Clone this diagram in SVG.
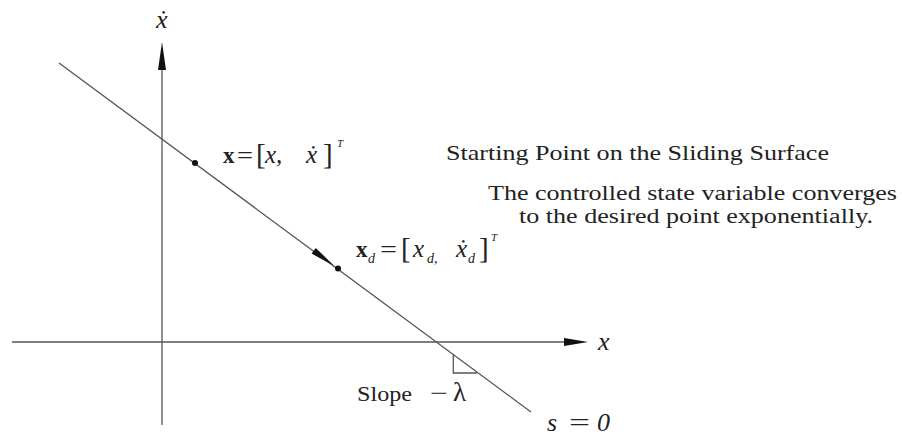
<svg xmlns="http://www.w3.org/2000/svg" width="902" height="437" viewBox="0 0 902 437">
<style>
.ln{stroke:#555;stroke-width:1.3;fill:none}
.ah{fill:#111;stroke:none}
</style>
<rect width="902" height="437" fill="#fff"/>
<g id="connectors">
<line class="ln" x1="162" y1="68" x2="162" y2="425"/>
<polygon class="ah" points="162,42 166,70 158,70"/>
<line class="ln" x1="12" y1="342" x2="567" y2="342"/>
<polygon class="ah" points="588,342 564,338 564,346"/>
<line class="ln" x1="59" y1="63" x2="531" y2="412"/>
<polygon class="ah" points="334,265.7 311.6,253.6 315.8,247.9"/>
<polyline class="ln" points="453.3,354.5 453.3,373 477,373" stroke-width="1"/>
</g>
<g id="axis-y-label" fill="#222"><text font-style="italic" x="156" y="28" font-size="26" font-family="Liberation Serif">ẋ</text></g>
<g id="axis-x-label" fill="#222"><text font-style="italic" x="598" y="350" font-size="26" font-family="Liberation Serif">x</text></g>
<g id="start-point" fill="#222">
<circle cx="195" cy="163" r="3" fill="#111"/>
<text font-weight="bold" x="223" y="163" font-size="23" font-family="Liberation Serif">x</text>
<text x="237" y="163" font-size="23" textLength="16" lengthAdjust="spacingAndGlyphs" font-family="Liberation Serif">=</text>
<text x="256" y="164" font-size="29" font-family="Liberation Serif">[</text>
<text font-style="italic" x="265" y="163" font-size="25" font-family="Liberation Serif">x,</text>
<text font-style="italic" x="306" y="163" font-size="25" font-family="Liberation Serif">ẋ</text>
<text x="323" y="164" font-size="29" font-family="Liberation Serif">]</text>
<text font-style="italic" x="337" y="147" font-size="11" font-family="Liberation Serif">T</text>
</g>
<g id="desired-point" fill="#222">
<circle cx="338" cy="268.5" r="3" fill="#111"/>
<text font-weight="bold" x="356" y="257" font-size="23" font-family="Liberation Serif">x</text>
<text font-style="italic" x="368" y="263" font-size="14" font-family="Liberation Serif">d</text>
<text x="380" y="257" font-size="23" textLength="17" lengthAdjust="spacingAndGlyphs" font-family="Liberation Serif">=</text>
<text x="401" y="258" font-size="29" font-family="Liberation Serif">[</text>
<text font-style="italic" x="413" y="257" font-size="25" font-family="Liberation Serif">x</text>
<text font-style="italic" x="427" y="263" font-size="14" font-family="Liberation Serif">d,</text>
<text font-style="italic" x="456" y="257" font-size="25" font-family="Liberation Serif">ẋ</text>
<text font-style="italic" x="468" y="263" font-size="14" font-family="Liberation Serif">d</text>
<text x="479" y="258" font-size="29" font-family="Liberation Serif">]</text>
<text font-style="italic" x="491" y="241" font-size="11" font-family="Liberation Serif">T</text>
</g>
<g id="start-text" fill="#222"><text x="446" y="160" font-size="22" textLength="383" lengthAdjust="spacingAndGlyphs" font-family="Liberation Serif">Starting Point on the Sliding Surface</text></g>
<g id="converge-text" fill="#222">
<text x="488" y="200" font-size="20.5" textLength="409" lengthAdjust="spacingAndGlyphs" font-family="Liberation Serif">The controlled state variable converges</text>
<text x="519" y="223" font-size="20.5" textLength="354" lengthAdjust="spacingAndGlyphs" font-family="Liberation Serif">to the desired point exponentially.</text>
</g>
<g id="slope-label" fill="#222">
<text x="357" y="401" font-size="22" textLength="55" lengthAdjust="spacingAndGlyphs" font-family="Liberation Serif">Slope</text>
<text x="430" y="401" font-size="24" textLength="18" lengthAdjust="spacingAndGlyphs" font-family="Liberation Serif">−</text>
<text x="453" y="401" font-size="27" font-family="Liberation Serif">λ</text>
</g>
<g id="surface-label" fill="#222">
<text font-style="italic" x="547" y="431" font-size="26" font-family="Liberation Serif">s</text>
<text x="569" y="431" font-size="26" textLength="21" lengthAdjust="spacingAndGlyphs" font-family="Liberation Serif">=</text>
<text font-style="italic" x="597" y="431" font-size="26" font-family="Liberation Serif">0</text>
</g>
</svg>
